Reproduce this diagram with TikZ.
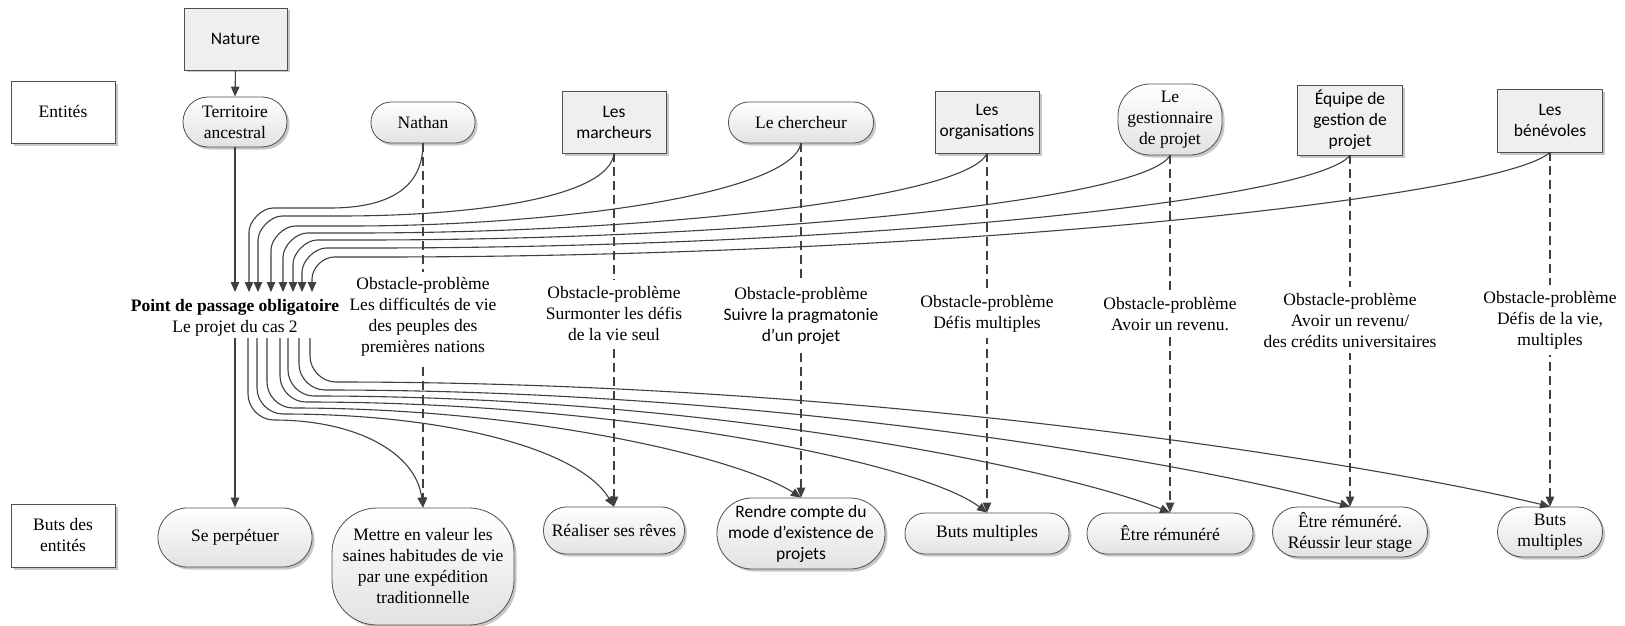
\documentclass[tikz,border=0pt]{standalone}
\usepackage{fontspec}
\setmainfont{Liberation Serif}
\newfontfamily\tnr{Liberation Serif}
\newfontfamily\calib{Carlito}
\usetikzlibrary{arrows.meta,shadows}

\definecolor{edge}{HTML}{404040}
\definecolor{frame}{HTML}{505050}
\definecolor{boxfill}{HTML}{EFEFEF}
\definecolor{pilllow}{HTML}{E2E2E2}

\tikzset{
  every node/.style={font=\tnr\fontsize{17.5}{21}\selectfont, align=center, inner sep=0pt},
  base/.style={draw=frame, line width=0.8pt,
    drop shadow={shadow xshift=2.5pt, shadow yshift=-2.5pt, opacity=0.22, fill=black}},
  actor/.style={base, rectangle, fill=boxfill},
  tag/.style={base, rectangle, fill=white},
  pill/.style={base, rounded corners=#1, top color=white, bottom color=pilllow},
  pill/.default=20pt,
  obst/.style={fill=white, inner xsep=2pt, inner ysep=6pt},
  link/.style={draw=edge, line width=1.1pt, -{Triangle[length=10pt,width=8.5pt]}},
  goal/.style={link, dash pattern=on 9pt off 5pt},
}

\begin{document}
\begin{tikzpicture}[x=1pt,y=-1pt]
\fill[white] (0,0) rectangle (1625,626);
\useasboundingbox (0,0) rectangle (1625,626);

% row labels
\node[tag, minimum width=104pt, minimum height=62pt] (entites) at (63,112) {Entités};
\node[tag, minimum width=104pt, minimum height=63pt] (butsent) at (63,535.5) {Buts des\\entités};

% entities
\node[actor, minimum width=103pt, minimum height=62pt] (nature) at (235.5,39) {\calib Nature};
\node[pill=25pt, minimum width=104pt, minimum height=50pt] (terr) at (235,122) {Territoire\\ancestral};
\node[pill, minimum width=104pt, minimum height=41pt] (nathan) at (423,122.5) {Nathan};
\node[actor, minimum width=104pt, minimum height=62pt] (march) at (614,122) {\calib Les\\\calib marcheurs};
\node[pill, minimum width=145pt, minimum height=41pt] (cherch) at (801,122.5) {Le chercheur};
\node[actor, minimum width=104pt, minimum height=62pt] (orgs) at (987,122) {\calib Les\\\calib organisations};
\node[pill=32pt, minimum width=104pt, minimum height=71pt] (gest) at (1170,119.5) {Le\\gestionnaire\\de projet};
\node[actor, minimum width=105pt, minimum height=70pt] (equipe) at (1350,120) {\calib Équipe de\\\calib gestion de\\\calib projet};
\node[actor, minimum width=105pt, minimum height=63pt] (benev) at (1550,120.5) {\calib Les\\\calib bénévoles};

% goals
\node[pill=29pt, minimum width=154pt, minimum height=59pt] (perp) at (235,537.5) {Se perpétuer};
\node[pill=45pt, minimum width=182pt, minimum height=117pt] (mev) at (423,566.5) {Mettre en valeur les\\saines habitudes de vie\\par une expédition\\traditionnelle};
\node[pill=23pt, minimum width=141pt, minimum height=47pt] (reves) at (614,530.5) {Réaliser ses rêves};
\node[pill=35pt, minimum width=168pt, minimum height=71pt] (rendre) at (801,533.5) {\calib Rendre compte du\\\calib mode d’existence de\\\calib projets};
\node[pill, minimum width=164pt, minimum height=41pt] (multi) at (987,533.5) {Buts multiples};
\node[pill, minimum width=166pt, minimum height=41pt] (remu) at (1170,533.5) {Être rémunéré};
\node[pill=25pt, minimum width=155pt, minimum height=50pt] (stage) at (1350,532) {Être rémunéré.\\Réussir leur stage};
\node[pill=25pt, minimum width=105pt, minimum height=50pt] (multib) at (1550,532) {Buts\\multiples};

% obligatory passage point and its ports
\node (ppo) at (235,318) {\textbf{Point de passage obligatoire}\\Le projet du cas 2};
\coordinate (in0) at (235,292);
\coordinate (in1) at (249,292);
\coordinate (in2) at (258,292);
\coordinate (in3) at (271,292);
\coordinate (in4) at (283,292);
\coordinate (in5) at (293,292);
\coordinate (in6) at (302,292);
\coordinate (in7) at (312,292);
\coordinate (out0) at (235,338);
\coordinate (out1) at (248,338);
\coordinate (out2) at (257,338);
\coordinate (out3) at (267,338);
\coordinate (out4) at (280,338);
\coordinate (out5) at (288,338);
\coordinate (out6) at (299,338);
\coordinate (out7) at (310,338);

% straight links
\draw[link] (nature.south) -- (terr.north);
\draw[link] (terr.south) -- (in0);
\draw[link] (out0) -- (perp.north);

% entities towards the passage point
\draw[link] (nathan.south) .. controls +(0,50) and (380,208) .. (330,208) -- (273,208)
  .. controls (262,208) and (249,221) .. (249,232) -- (in1);
\draw[link] (march.south) .. controls +(-5,45) and (470,216) .. (340,216) -- (282,216)
  .. controls (271,216) and (258,229) .. (258,240) -- (in2);
\draw[link] (cherch.south) .. controls +(-10,50) and (560,226) .. (350,226) -- (295,226)
  .. controls (284,226) and (271,239) .. (271,250) -- (in3);
\draw[link] (orgs.south) .. controls +(-20,45) and (650,233) .. (355,233) -- (307,233)
  .. controls (296,233) and (283,246) .. (283,257) -- (in4);
\draw[link] (gest.south) .. controls +(-25,45) and (750,240) .. (362,240) -- (317,240)
  .. controls (306,240) and (293,253) .. (293,264) -- (in5);
\draw[link] (equipe.south) .. controls +(-35,45) and (850,248) .. (370,248) -- (326,248)
  .. controls (315,248) and (302,261) .. (302,272) -- (in6);
\draw[link] (benev.south) .. controls +(-50,45) and (950,257) .. (378,257) -- (334,257)
  .. controls (324,257) and (312,267) .. (312,279) -- (in7);

% passage point towards the goals
\draw[link] (out1) -- (248,394) .. controls (248,408) and (260,420) .. (274,420)
  .. controls (355,420) and (416,452) .. (mev.north);
\draw[link] (out2) -- (257,388) .. controls (257,402) and (269,414) .. (283,414)
  .. controls (450,414) and (580,450) .. (reves.north);
\draw[link] (out3) -- (267,382) .. controls (267,396) and (279,408) .. (293,408)
  .. controls (530,408) and (740,458) .. (rendre.north);
\draw[link] (out4) -- (280,376) .. controls (280,390) and (292,402) .. (306,402)
  .. controls (620,402) and (920,462) .. (multi.north);
\draw[link] (out5) -- (288,370) .. controls (288,384) and (300,396) .. (314,396)
  .. controls (720,396) and (1070,472) .. (remu.north);
\draw[link] (out6) -- (299,364) .. controls (299,378) and (311,390) .. (325,390)
  .. controls (800,390) and (1220,470) .. (stage.north);
\draw[link] (out7) -- (310,356) .. controls (310,370) and (322,382) .. (336,382)
  .. controls (900,382) and (1400,470) .. (multib.north);

% obstacle-problems between each entity and its goal
\draw[goal] (nathan.south) -- (mev.north);
\draw[goal] (march.south) -- (reves.north);
\draw[goal] (cherch.south) -- (rendre.north);
\draw[goal] (orgs.south) -- (multi.north);
\draw[goal] (gest.south) -- (remu.north);
\draw[goal] (equipe.south) -- (stage.north);
\draw[goal] (benev.south) -- (multib.north);

\node[obst] (ob1) at (423,317) {Obstacle-problème\\Les difficultés de vie\\des peuples des\\premières nations};
\node[obst] (ob2) at (614,313) {Obstacle-problème\\Surmonter les défis\\de la vie seul};
\node[obst] (ob3) at (801,316) {Obstacle-problème\\{\calib Suivre la pragmatonie}\\{\calib d’un projet}};
\node[obst] (ob4) at (987,314) {Obstacle-problème\\Défis multiples};
\node[obst] (ob5) at (1170,314) {Obstacle-problème\\Avoir un revenu.};
\node[obst] (ob6) at (1350,320) {Obstacle-problème\\Avoir un revenu/\\des crédits universitaires};
\node[obst] (ob7) at (1550,320) {Obstacle-problème\\Défis de la vie,\\multiples};
\end{tikzpicture}
\end{document}
